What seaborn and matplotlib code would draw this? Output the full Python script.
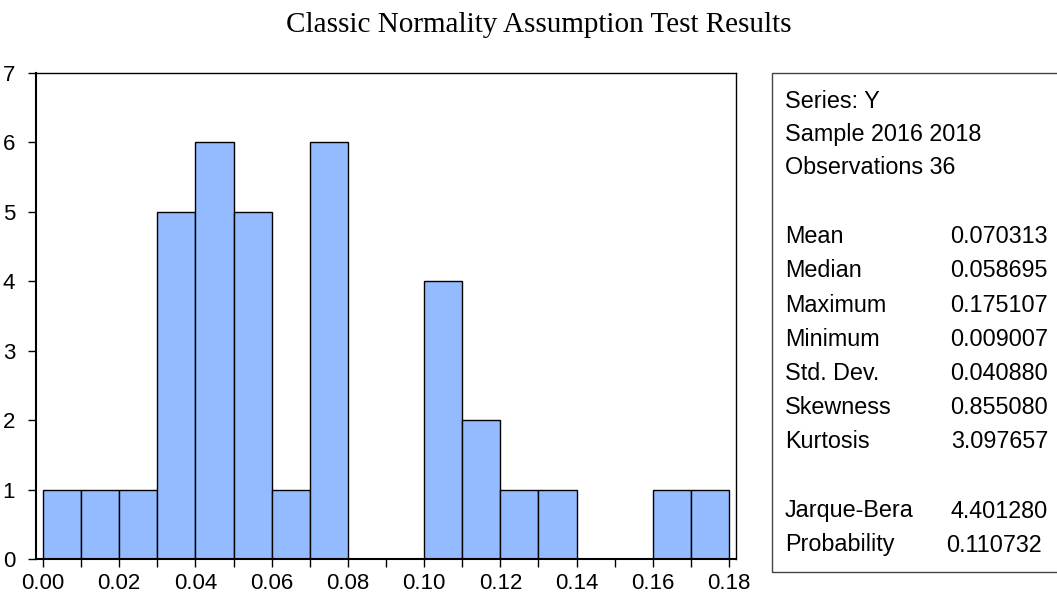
import numpy as np
import pandas as pd
import seaborn as sns
import matplotlib.pyplot as plt
from matplotlib.patches import Rectangle

# Histogram bins (width 0.01) and counts
bin_edges = [round(0.01 * i, 2) for i in range(19)]
bin_counts = [1, 1, 1, 5, 6, 5, 1, 6, 0, 0, 4, 2, 1, 1, 0, 0, 1, 1]

# Descriptive statistics panel
header_lines = ['Series: Y', 'Sample 2016 2018', 'Observations 36']
stat_names = ['Mean', 'Median', 'Maximum', 'Minimum', 'Std. Dev.', 'Skewness', 'Kurtosis']
stat_values = ['0.070313', '0.058695', '0.175107', '0.009007', '0.040880', '0.855080', '3.097657']
test_names = ['Jarque-Bera', 'Probability']
test_values = ['4.401280', '0.110732']

x_ticks = [round(0.01 * i, 2) for i in range(19)]
x_labels = ['%.2f' % t if i % 2 == 0 else '' for i, t in enumerate(x_ticks)]

centers = [(bin_edges[i] + bin_edges[i + 1]) / 2 for i in range(len(bin_counts))]
df = pd.DataFrame({'value': centers, 'count': bin_counts})

sns.set_style('white')
plt.rcParams['font.family'] = ['Liberation Sans', 'DejaVu Sans']
plt.rcParams['text.color'] = 'black'

W, H = 1057, 595
fig = plt.figure(figsize=(W / 100, H / 100), dpi=100)
ax = fig.add_axes([36 / W, 1 - 559 / H, 700 / W, 486 / H])

sns.histplot(data=df, x='value', weights='count', bins=bin_edges, ax=ax,
             color='#94BBFF', alpha=1, edgecolor='black', linewidth=1)

ax.set_xlim(-0.00184, 0.18184)
ax.set_ylim(0, 7)
ax.set_xticks(x_ticks)
ax.set_xticklabels(x_labels)
ax.set_yticks(range(8))
ax.set_xlabel('')
ax.set_ylabel('')
ax.tick_params(axis='both', direction='out', length=6, width=1, colors='black',
               labelsize=16, left=True, bottom=True)
ax.tick_params(axis='y', pad=9)
ax.tick_params(axis='x', pad=4)
for side, spine in ax.spines.items():
    spine.set_visible(True)
    spine.set_color('black')
    spine.set_linewidth(1.5 if side in ('left', 'bottom') else 1.0)

fig.text(539 / W, 1 - 25 / H, 'Classic Normality Assumption Test Results',
         ha='center', va='center', fontsize=21, family='Liberation Serif')

# Statistics box
fig.patches.append(Rectangle((772 / W, 1 - 572 / H), 300 / W, 499 / H,
                             transform=fig.transFigure, fill=False,
                             edgecolor='#444444', linewidth=1))

fs = 16.8
for i, line in enumerate(header_lines):
    fig.text(785 / W, 1 - (101 + 33.5 * i) / H, line, ha='left', va='center', fontsize=fs)
for i, (name, val) in enumerate(zip(stat_names, stat_values)):
    y = 1 - (237 + 34 * i) / H
    fig.text(785 / W, y, name, ha='left', va='center', fontsize=fs)
    fig.text(1048 / W, y, val, ha='right', va='center', fontsize=fs)
for i, (name, val) in enumerate(zip(test_names, test_values)):
    y = 1 - (511 + 34 * i) / H
    xr = 1048 if i == 0 else 1042
    fig.text(785 / W, y, name, ha='left', va='center', fontsize=fs)
    fig.text(xr / W, y, val, ha='right', va='center', fontsize=fs)

fig.savefig('out.png', dpi=100)
